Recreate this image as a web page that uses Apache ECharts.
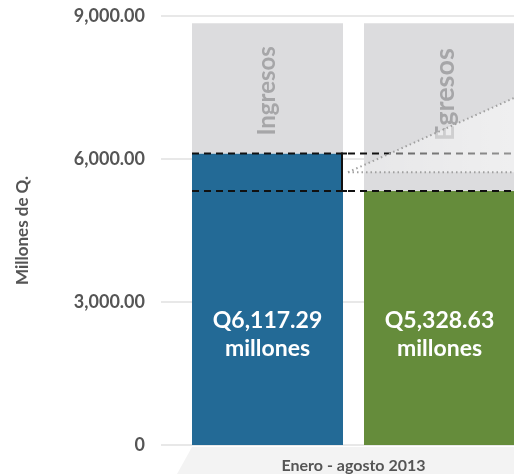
<!DOCTYPE html>
<html>
<head>
<meta charset="utf-8">
<script src="https://cdn.jsdelivr.net/npm/echarts@6/dist/echarts.min.js"></script>
<style>html,body{margin:0;padding:0;background:#fff}#c{width:514px;height:474px}</style>
</head>
<body>
<div id="c"></div>
<script>
const categories = ['Enero - agosto 2013'];
const seriesNames = ['Ingresos', 'Egresos'];
const ingresos = [6117.29];
const egresos = [5328.63];
const backgroundTop = [8850];
const yTicks = [0, 3000, 6000, 9000];
const calloutTop = [7280];

const FONT = 'Lato';
const fmt = v => v.toLocaleString('en-US', {minimumFractionDigits: 2, maximumFractionDigits: 2});
const BW = 151, GAP = 21;

const chart = echarts.init(document.getElementById('c'), null, {renderer: 'canvas'});

const valueLabel = {
  show: true, position: 'insideBottom', distance: 82, color: '#fff',
  fontFamily: FONT, fontSize: 23, fontWeight: 'bold', lineHeight: 28,
  formatter: p => 'Q' + fmt(p.value) + '\nmillones'
};
const bgLabel = (name, size, dist, col) => ({
  show: true, position: 'insideTop', rotate: 90, align: 'right', verticalAlign: 'middle',
  distance: dist, color: col, fontFamily: FONT, fontSize: size, fontWeight: 'bold',
  formatter: () => name
});

chart.setOption({
  animation: false,
  grid: {left: 161, right: -32, top: 16, bottom: 29, outerBoundsMode: 'none', containLabel: false},
  xAxis: {
    type: 'category', data: categories,
    axisLine: {show: false}, axisTick: {show: false},
    axisLabel: {color: '#555', fontFamily: FONT, fontSize: 16, fontWeight: 'bold', margin: 13}
  },
  yAxis: {
    type: 'value', min: yTicks[0], max: yTicks[yTicks.length - 1], interval: yTicks[1] - yTicks[0],
    name: 'Millones de Q.', nameLocation: 'middle', nameGap: 130, nameRotate: 90,
    nameTextStyle: {color: '#555', fontFamily: FONT, fontSize: 17, fontWeight: 'bold'},
    axisLine: {show: false}, axisTick: {show: false},
    axisLabel: {color: '#555', fontFamily: FONT, fontSize: 18, fontWeight: 'bold', margin: 16,
      formatter: v => v === 0 ? '0' : fmt(v)},
    splitLine: {lineStyle: {color: '#e8e8e8', width: 2}}
  },
  series: [
    {name: seriesNames[0], type: 'bar', stack: 'ing', barWidth: BW, barGap: (GAP / BW * 100) + '%',
     data: ingresos, itemStyle: {color: '#236a96'}, label: valueLabel},
    {name: seriesNames[0] + '_bg', type: 'bar', stack: 'ing', barWidth: BW,
     data: backgroundTop.map((t, i) => t - ingresos[i]), itemStyle: {color: '#dcdcde'},
     label: bgLabel(seriesNames[0], 24, 23, '#a6a6a8')},
    {name: seriesNames[1], type: 'bar', stack: 'egr', barWidth: BW,
     data: egresos, itemStyle: {color: '#658c3b'}, label: valueLabel},
    {name: seriesNames[1] + '_bg', type: 'bar', stack: 'egr', barWidth: BW,
     data: backgroundTop.map((t, i) => t - egresos[i]), itemStyle: {color: '#dcdcde'},
     label: Object.assign(bgLabel(seriesNames[1], 27, 25, '#a6a6a8'), {offset: [0, 6]})}
  ]
});

function annotations() {
  const cx = chart.convertToPixel({xAxisIndex: 0}, 0);
  const blueL = cx - GAP / 2 - BW, blueR = cx - GAP / 2;
  const yI = chart.convertToPixel({yAxisIndex: 0}, ingresos[0]);
  const yE = chart.convertToPixel({yAxisIndex: 0}, egresos[0]);
  const y0 = chart.convertToPixel({yAxisIndex: 0}, 0);
  const yT = chart.convertToPixel({yAxisIndex: 0}, calloutTop[0]);
  const yM = (yI + yE) / 2;
  const W = chart.getWidth(), H = chart.getHeight();
  const xs = blueR + 5;
  const dashed = {stroke: '#111', lineWidth: 2, lineDash: [7, 5]};
  const dotted = {stroke: '#a0a0a0', lineWidth: 2, lineDash: [1.5, 3]};
  chart.setOption({
    graphic: [
      {type: 'polygon', z: 0, silent: true,
       shape: {points: [[blueL, y0 + 2], [W, y0 + 2], [W, H], [blueL - 15, H]]},
       style: {fill: '#f3f3f3'}},
      {type: 'line', z: 10, silent: true, shape: {x1: blueL, y1: yI, x2: W, y2: yI}, style: dashed},
      {type: 'line', z: 10, silent: true, shape: {x1: blueL, y1: yE, x2: W, y2: yE}, style: dashed},
      {type: 'polygon', z: 11, silent: true,
       shape: {points: [[xs, yM], [W, yT], [W, yM]]},
       style: {fill: new echarts.graphic.LinearGradient(0, 0, 1, 0, [
         {offset: 0, color: 'rgba(255,255,255,0.3)'}, {offset: 1, color: 'rgba(255,255,255,0.55)'}])}},
      {type: 'line', z: 12, silent: true, shape: {x1: xs, y1: yM, x2: W, y2: yT}, style: dotted},
      {type: 'line', z: 12, silent: true, shape: {x1: xs, y1: yM, x2: W, y2: yM}, style: dotted},
      {type: 'polyline', z: 12, silent: true,
       shape: {points: [[blueR + 4, yI], [blueR - 1, yI], [blueR - 1, yE], [blueR + 4, yE]]},
       style: {stroke: '#111', lineWidth: 2, fill: null}}
    ]
  });
}
annotations();
</script>
</body>
</html>
